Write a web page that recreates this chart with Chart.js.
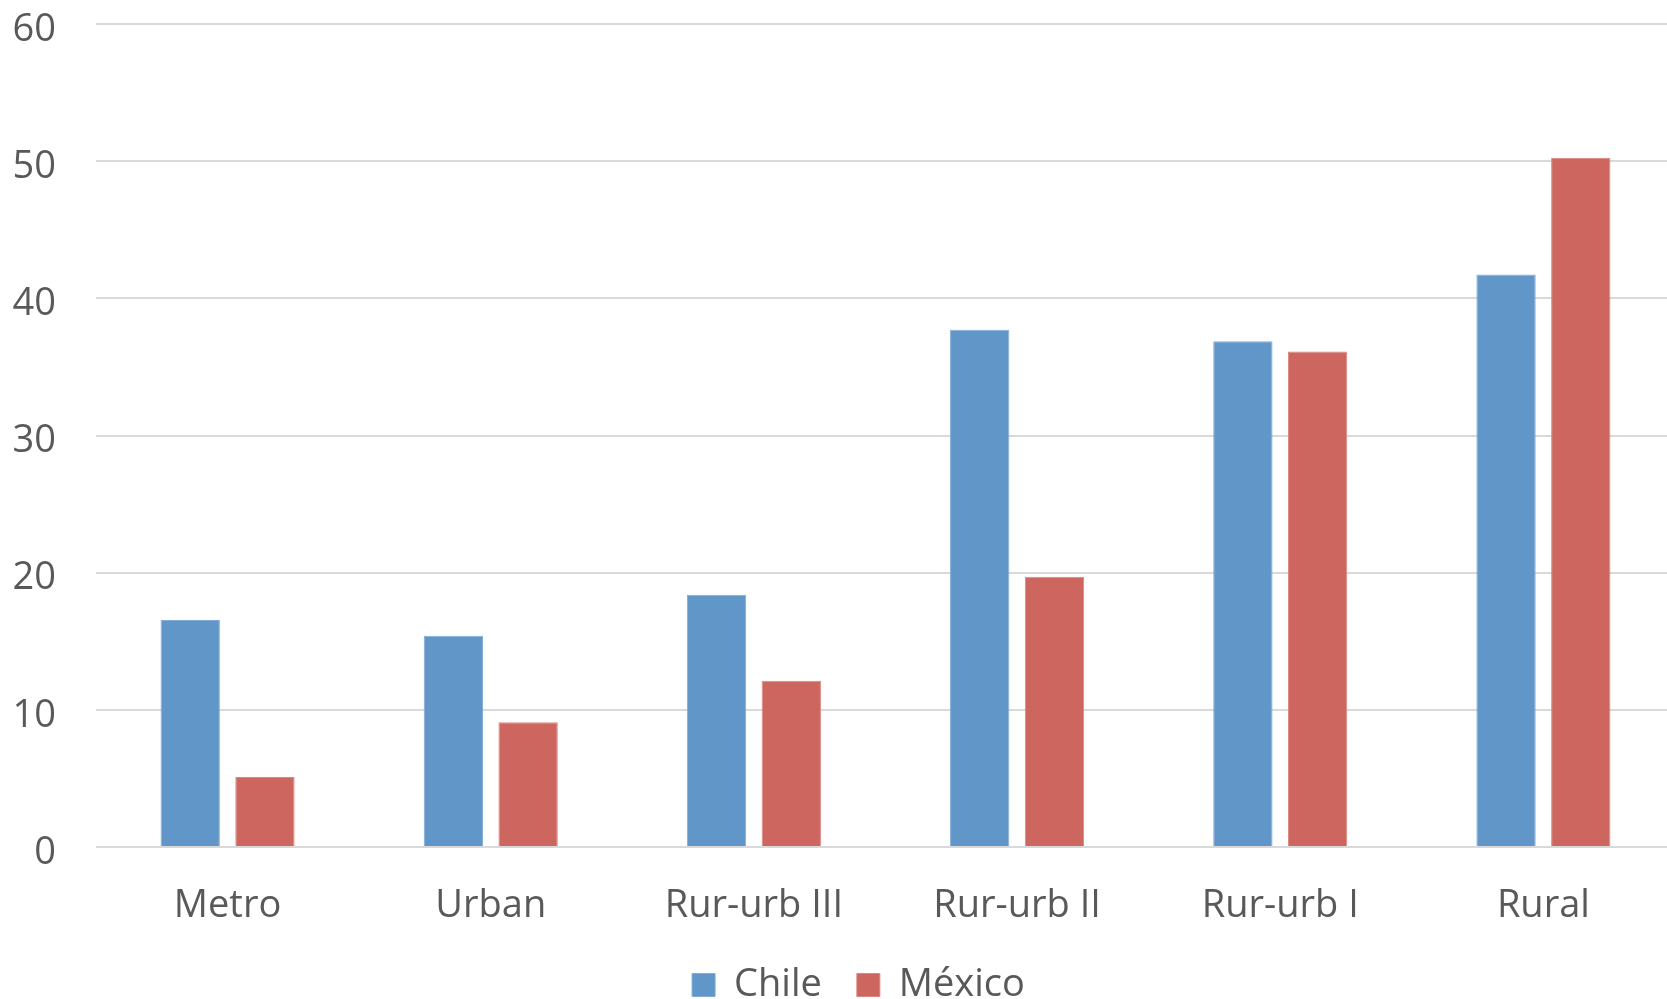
<!DOCTYPE html>
<html>
<head>
<meta charset="utf-8">
<script src="https://cdn.jsdelivr.net/npm/chart.js@4/dist/chart.umd.min.js"></script>
<style>
  html, body { margin: 0; padding: 0; background: #ffffff; overflow: hidden; }
  #wrap { position: absolute; left: 0; top: 0; width: 1760px; height: 1014px; }
</style>
</head>
<body>
<div id="wrap"><canvas id="chart" width="1760" height="1014"></canvas></div>
<script>
// Categories along the x axis
const categories = ['Metro', 'Urban', 'Rur-urb III', 'Rur-urb II', 'Rur-urb I', 'Rural'];

// Series values
const chileValues = [16.55, 15.40, 18.39, 37.71, 36.88, 41.73];
const mexicoValues = [5.11, 9.10, 12.12, 19.71, 36.13, 50.24];

// Series names
const seriesNames = ['Chile', 'México'];

// Y axis ticks
const yTickValues = [0, 10, 20, 30, 40, 50, 60];

const FONT = '"Open Sans", Lato, sans-serif';
const TEXT = '#595959';

new Chart(document.getElementById('chart'), {
  type: 'bar',
  data: {
    labels: categories,
    datasets: [
      {
        label: seriesNames[0],
        data: chileValues,
        backgroundColor: 'rgb(97,150,201)',
        borderColor: 'rgb(128,171,214)',
        borderWidth: 1,
        categoryPercentage: 0.568,
        barPercentage: 0.794
      },
      {
        label: seriesNames[1],
        data: mexicoValues,
        backgroundColor: 'rgb(205,102,94)',
        borderColor: 'rgb(219,135,128)',
        borderWidth: 1,
        categoryPercentage: 0.568,
        barPercentage: 0.794
      }
    ]
  },
  options: {
    responsive: false,
    animation: false,
    layout: { padding: { left: 0, right: 85, top: 0, bottom: 0 } },
    plugins: {
      title: { display: false },
      tooltip: { enabled: false },
      legend: {
        position: 'bottom',
        labels: {
          font: { family: FONT, size: 38 },
          color: TEXT,
          boxWidth: 23,
          boxHeight: 23,
          padding: 35
        }
      }
    },
    scales: {
      x: {
        grid: { display: false, drawTicks: false },
        border: { display: false },
        ticks: {
          font: { family: FONT, size: 38 },
          color: TEXT,
          padding: 36,
          maxRotation: 0,
          autoSkip: false
        },
        afterFit: (scale) => { scale.height = 84; }
      },
      y: {
        min: 0,
        max: 60,
        afterBuildTicks: (scale) => { scale.ticks = yTickValues.map(v => ({ value: v })); },
        grid: { color: '#d9d9d9', lineWidth: 2, drawTicks: false },
        border: { display: false },
        ticks: {
          font: { family: FONT, size: 38 },
          color: TEXT,
          padding: 40,
          labelOffset: 6
        },
        afterFit: (scale) => {
          scale.width = 96;
          scale.paddingTop = 24;
          scale.paddingBottom = 0;
        }
      }
    }
  },
  plugins: [{
    id: 'whiteBackground',
    beforeDraw: (chart) => {
      const ctx = chart.ctx;
      ctx.save();
      ctx.fillStyle = '#ffffff';
      ctx.fillRect(0, 0, chart.width, chart.height);
      ctx.restore();
      // centre the legend row under the plot area plus the value axis gutter
      if (chart.legend) {
        chart.legend.left = 42;
      }
    }
  }]
});
</script>
</body>
</html>
